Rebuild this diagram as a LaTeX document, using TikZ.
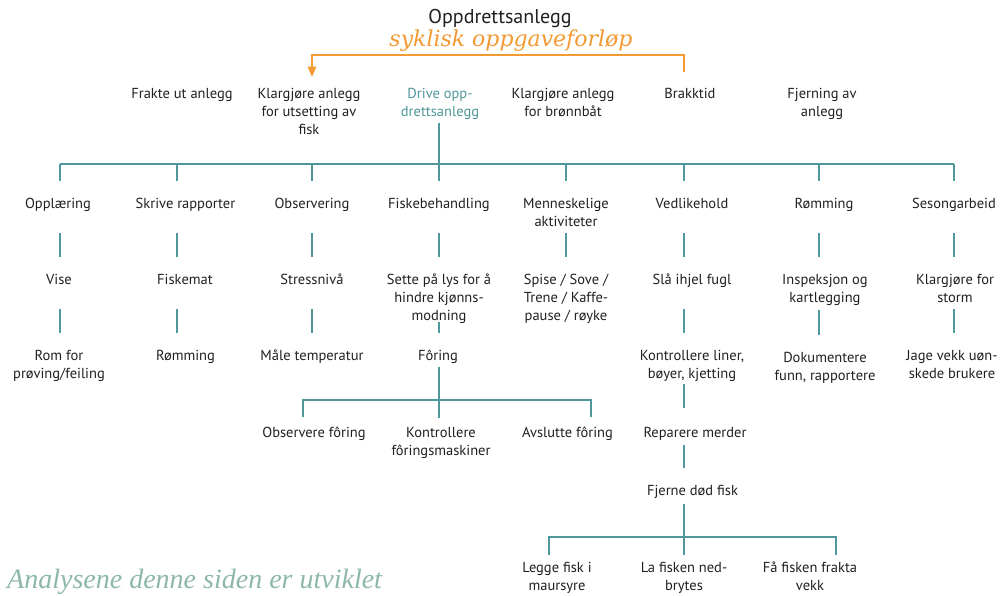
\documentclass[tikz,border=0pt]{standalone}
\usepackage{fontspec}
\setmainfont{PT Sans}
\newfontfamily\seriffont{Liberation Serif}
\newfontfamily\bredfont{DejaVu Serif}
\usepackage{xcolor}
\usepackage{tikz}
\usetikzlibrary{arrows}

\definecolor{tekst}{HTML}{231F20}
\definecolor{linje}{HTML}{4F979B}
\definecolor{oransje}{HTML}{F39A33}
\definecolor{groenn}{HTML}{8DB8A8}

\begin{document}
\begin{tikzpicture}
        [
            x = 1pt, y = -1pt,
            every node/.append style = {font = \fontsize{14.5}{18}\selectfont, text = tekst, align = center, inner sep = 0pt, anchor = base},
            link/.style = {draw = linje, line width = 1.1pt},
            syklus/.style = {draw = oransje, line width = 1.4pt, -triangle 45}]
        \fill[white] (0,0) rectangle (1004,595);
        \useasboundingbox (0,0) rectangle (1004,595);

        \node (tittel) at (500,23) [font = \fontsize{20}{24}\selectfont] {Oppdrettsanlegg};
        \node (syklisk) at (511,46) [font = \bredfont\itshape\fontsize{22}{26}\selectfont, text = oransje] {syklisk oppgaveforløp};
        \node (analyse) at (7,588) [anchor = base west, font = \seriffont\itshape\fontsize{28}{30}\selectfont, text = groenn] {Analysene denne siden er utviklet};

        \node (frakte) at (182,98)  {Frakte ut anlegg};
        \node (klarg)  at (309,134) {Klargjøre anlegg\\for utsetting av\\fisk};
        \node (drive)  at (440,116) [text = linje] {Drive opp-\\drettsanlegg};
        \node (bronn)  at (563,116) {Klargjøre anlegg\\for brønnbåt};
        \node (brakk)  at (690,98)  {Brakktid};
        \node (fjern)  at (822,116) {Fjerning av\\anlegg};

        \node (opp)   at (58,208)    {Opplæring};
        \node (skriv) at (185.5,208) {Skrive rapporter};
        \node (obs)   at (312,208)   {Observering};
        \node (fiskb) at (439,208)   {Fiskebehandling};
        \node (menn)  at (566,226)   {Menneskelige\\aktiviteter};
        \node (vedl)  at (692,208)   {Vedlikehold};
        \node (romm)  at (824,208)   {Rømming};
        \node (seso)  at (954,208)   {Sesongarbeid};

        \node (vise)   at (59,284)  {Vise};
        \node (fmat)   at (185,284) {Fiskemat};
        \node (stress) at (312,284) {Stressnivå};
        \node (lys)    at (439,320) {Sette på lys for å\\hindre kjønns-\\modning};
        \node (spise)  at (566,320) {Spise / Sove /\\Trene / Kaffe-\\pause / røyke};
        \node (fugl)   at (692,284) {Slå ihjel fugl};
        \node (insp)   at (825,302) {Inspeksjon og\\kartlegging};
        \node (storm)  at (955,302) {Klargjøre for\\storm};

        \node (rom)    at (59,378)    {Rom for\\prøving/feiling};
        \node (romm2)  at (185.5,360) {Rømming};
        \node (temp)   at (312,360)   {Måle temperatur};
        \node (foring) at (438,360)   {Fôring};
        \node (liner)  at (692,378)   {Kontrollere liner,\\bøyer, kjetting};
        \node (dok)    at (825,380)   {Dokumentere\\funn, rapportere};
        \node (jage)   at (952,378)   {Jage vekk uøn-\\skede brukere};

        \node (obsf)  at (314,437)   {Observere fôring};
        \node (kontf) at (441,455)   {Kontrollere\\fôringsmaskiner};
        \node (avsl)  at (567.5,437) {Avslutte fôring};
        \node (rep)   at (695,437)   {Reparere merder};
        \node (fjdod) at (692.5,495) {Fjerne død fisk};

        \node (legge)  at (557,590) {Legge fisk i\\maursyre};
        \node (nedbr)  at (684,590) {La fisken ned-\\brytes};
        \node (frakta) at (810,590) {Få fisken frakta\\vekk};

        \coordinate (ofra) at (684,72);
        \coordinate (otil) at (312,77);
        \draw[syklus] (ofra) -- ++(0,-17) -| (otil);

        \coordinate (k1) at (60,164);
        \coordinate (k2) at (177,164);
        \coordinate (k3) at (312,164);
        \coordinate (k4) at (439,164);
        \coordinate (k5) at (566,164);
        \coordinate (k6) at (684,164);
        \coordinate (k7) at (819,164);
        \coordinate (k8) at (954,164);
        \coordinate (r23a) at (0,233);
        \coordinate (r23b) at (0,257);
        \coordinate (r34a) at (0,309);
        \coordinate (r34b) at (0,333);

        \draw[link] (k4 |- 0,123) -- (k4);
        \draw[link] (k1) -- (k8);
        \foreach \i in {1,...,8}
            \draw[link] (k\i) -- ++(0,17);
        \foreach \i in {1,...,8}
            \draw[link] (k\i |- r23a) -- (k\i |- r23b);
        \foreach \i in {1,2,3,6,8}
            \draw[link] (k\i |- r34a) -- (k\i |- r34b);
        \draw[link] (k4 |- 0,322) -- (k4 |- r34b);
        \draw[link] (k7 |- 0,310) -- (k7 |- 0,335);

        \coordinate (f0) at (439,400);
        \coordinate (f1) at (303,400);
        \coordinate (f3) at (591,400);
        \draw[link] (k4 |- 0,367) -- (f0) -- ++(0,18);
        \draw[link] (f1) ++(0,17) -- (f1) -- (f3) -- ++(0,17);

        \draw[link] (k6 |- 0,384) -- (k6 |- 0,408);
        \draw[link] (k6 |- 0,445) -- (k6 |- 0,468);
        \coordinate (d0) at (684,537);
        \coordinate (d1) at (549,537);
        \coordinate (d3) at (836,537);
        \draw[link] (k6 |- 0,504) -- (d0) -- ++(0,18);
        \draw[link] (d1) ++(0,18) -- (d1) -- (d3) -- ++(0,18);
    \end{tikzpicture}
\end{document}
